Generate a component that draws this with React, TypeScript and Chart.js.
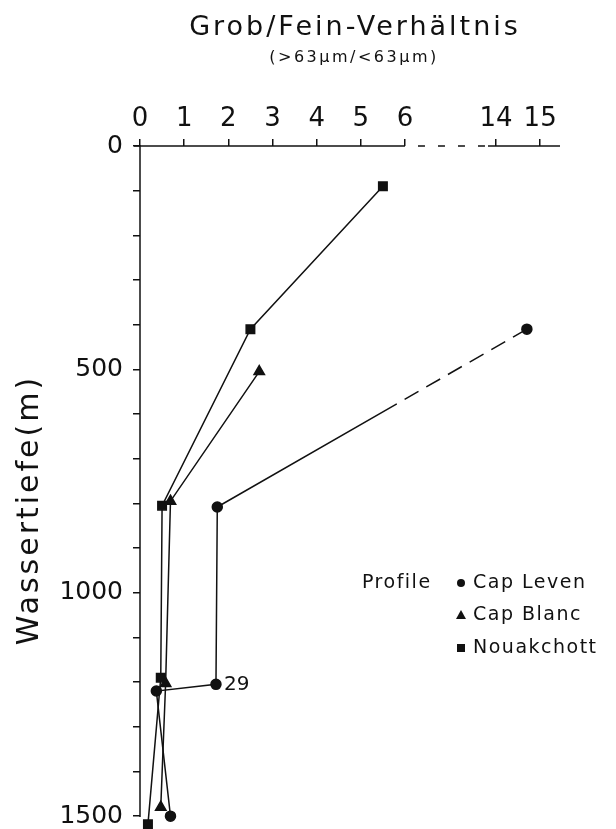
import React, { useEffect, useRef } from 'react';
import { Chart, registerables, LinearScale } from 'chart.js';

Chart.register(...registerables);

// ---------- data ----------
const X_TICKS = [0, 1, 2, 3, 4, 5, 6, 14, 15];
const Y_MAX_TICK = 1500;
const Y_LABEL_STEP = 500;
const Y_TICK_STEP = 100;
const BREAK_FROM = 6;
const BREAK_TO = 14;

const SERIES_NAMES = ['Cap Leven', 'Cap Blanc', 'Nouakchott'];
const capLevenRatio = [14.7, 1.75, 1.72, 0.37, 0.69];
const capLevenDepth = [410, 808, 1205, 1220, 1500];
const capBlancRatio = [2.7, 0.69, 0.58, 0.47];
const capBlancDepth = [505, 795, 1203, 1480];
const nouakchottRatio = [5.5, 2.5, 0.5, 0.47, 0.18];
const nouakchottDepth = [90, 410, 805, 1190, 1518];
const SAMPLE_LABEL = '29';
const SAMPLE_INDEX = 2;

const TITLE = 'Grob/Fein-Verhältnis';
const SUBTITLE = '(>63μm/<63μm)';
const Y_TITLE = 'Wassertiefe(m)';
const LEGEND_TITLE = 'Profile';

// ---------- styling ----------
const INK = '#111';
const FONT = "'DejaVu Sans', sans-serif";
const BREAK_WIDTH = 2.06; // axis units the break occupies
const LEVEN_DASH = [16, 9, 16, 9, 16, 9, 16, 9, 16, 9, 16, 9, 600, 0];

function toAxis(v: number) {
  if (v <= BREAK_FROM) return v;
  if (v >= BREAK_TO) return BREAK_FROM + BREAK_WIDTH + (v - BREAK_TO);
  return BREAK_FROM + ((v - BREAK_FROM) / (BREAK_TO - BREAK_FROM)) * BREAK_WIDTH;
}
function fromAxis(u: number) {
  if (u <= BREAK_FROM) return u;
  if (u >= BREAK_FROM + BREAK_WIDTH) return u - BREAK_FROM - BREAK_WIDTH + BREAK_TO;
  return BREAK_FROM + ((u - BREAK_FROM) / BREAK_WIDTH) * (BREAK_TO - BREAK_FROM);
}

class BrokenLinearScale extends LinearScale {
  static id = 'brokenLinear';
  static defaults = {};
  getPixelForValue(value: any) {
    if (value === null || value === undefined || isNaN(value)) return NaN;
    const a = toAxis(this.min);
    const b = toAxis(this.max);
    return this.getPixelForDecimal((toAxis(value) - a) / (b - a));
  }
  getValueForPixel(pixel: number) {
    const a = toAxis(this.min);
    const b = toAxis(this.max);
    return fromAxis(a + this.getDecimalForPixel(pixel) * (b - a));
  }
}
Chart.register(BrokenLinearScale as any);

const decorPlugin = {
  id: 'decor',
  afterDraw(chart: any) {
    const ctx = chart.ctx as CanvasRenderingContext2D;
    const area = chart.chartArea;
    const xs = chart.scales.x;
    const ys = chart.scales.y;
    ctx.save();
    ctx.strokeStyle = INK;
    ctx.fillStyle = INK;
    ctx.lineWidth = 1.5;

    // y axis line (0 .. 1500)
    ctx.beginPath();
    ctx.moveTo(area.left, ys.getPixelForValue(0) - 1);
    ctx.lineTo(area.left, ys.getPixelForValue(Y_MAX_TICK) + 0.75);
    ctx.stroke();

    // broken x axis line
    const y0 = ys.getPixelForValue(0);
    const p6 = xs.getPixelForValue(BREAK_FROM);
    const p14 = xs.getPixelForValue(BREAK_TO);
    ctx.beginPath();
    ctx.moveTo(area.left - 6, y0);
    ctx.lineTo(p6, y0);
    ctx.stroke();
    ctx.setLineDash([7, 13]);
    ctx.lineDashOffset = 7;
    ctx.beginPath();
    ctx.moveTo(p6, y0);
    ctx.lineTo(p14 - 8, y0);
    ctx.stroke();
    ctx.setLineDash([]);
    ctx.beginPath();
    ctx.moveTo(p14 - 8, y0);
    ctx.lineTo(area.right, y0);
    ctx.stroke();

    // titles
    (ctx as any).letterSpacing = '3px';
    ctx.textAlign = 'center';
    ctx.textBaseline = 'middle';
    ctx.font = `27px ${FONT}`;
    ctx.fillText(TITLE, 355, 28);
    ctx.font = `16px ${FONT}`;
    (ctx as any).letterSpacing = '2.5px';
    ctx.fillText(SUBTITLE, 354, 58);

    // y title
    ctx.save();
    ctx.translate(30, 510);
    ctx.rotate(-Math.PI / 2);
    ctx.font = `30px ${FONT}`;
    (ctx as any).letterSpacing = '3px';
    ctx.fillText(Y_TITLE, 0, 0);
    ctx.restore();

    // sample label
    const pt = chart.getDatasetMeta(0).data[SAMPLE_INDEX];
    ctx.textAlign = 'left';
    ctx.font = `20px ${FONT}`;
    (ctx as any).letterSpacing = '0px';
    ctx.fillText(SAMPLE_LABEL, pt.x + 8, pt.y);

    // legend
    ctx.font = `19px ${FONT}`;
    (ctx as any).letterSpacing = '1.5px';
    const lx = 461;
    const ly = [583, 615, 648];
    ctx.fillText(LEGEND_TITLE, 362, ly[0]);
    SERIES_NAMES.forEach((name, i) => {
      const y = ly[i];
      ctx.beginPath();
      if (i === 0) {
        ctx.arc(lx, y, 4, 0, Math.PI * 2);
      } else if (i === 1) {
        ctx.moveTo(lx, y - 5);
        ctx.lineTo(lx + 5, y + 4);
        ctx.lineTo(lx - 5, y + 4);
        ctx.closePath();
      } else {
        ctx.rect(lx - 4, y - 4, 8, 8);
      }
      ctx.fill();
      ctx.fillText(name, lx + 12, y);
    });
    ctx.restore();
  },
};

function makeData(xs: number[], ys: number[]) {
  return xs.map((x, i) => ({ x, y: ys[i] }));
}

export default function App() {
  const ref = useRef<HTMLCanvasElement>(null);
  useEffect(() => {
    document.body.style.margin = '0';
    const canvas = ref.current!;
    const common = {
      borderColor: INK,
      backgroundColor: INK,
      pointBackgroundColor: INK,
      pointBorderColor: INK,
      borderWidth: 1.5,
      tension: 0,
      clip: false as any,
    };
    const yTicks: number[] = [];
    for (let v = 0; v <= Y_MAX_TICK; v += Y_TICK_STEP) yTicks.push(v);
    const chart = new Chart(canvas, {
      type: 'line',
      data: {
        datasets: [
          {
            ...common,
            label: SERIES_NAMES[0],
            data: makeData(capLevenRatio, capLevenDepth),
            pointStyle: 'circle',
            pointRadius: 5,
            segment: {
              borderDash: (c: any) => (c.p0DataIndex === 0 ? LEVEN_DASH : undefined),
            },
          },
          {
            ...common,
            label: SERIES_NAMES[1],
            data: makeData(capBlancRatio, capBlancDepth),
            pointStyle: 'triangle',
            pointRadius: 6,
          },
          {
            ...common,
            label: SERIES_NAMES[2],
            data: makeData(nouakchottRatio, nouakchottDepth),
            pointStyle: 'rect',
            pointRadius: 6,
          },
        ] as any,
      },
      options: {
        responsive: false,
        animation: false,
        devicePixelRatio: 1,
        events: [],
        layout: { padding: { left: 0, top: 0, right: 56, bottom: 0 } },
        plugins: {
          legend: { display: false },
          tooltip: { enabled: false },
          title: { display: false },
        },
        scales: {
          x: {
            type: 'brokenLinear' as any,
            position: 'top',
            min: 0,
            max: 15.45,
            afterFit: (s: any) => {
              s.height = 146;
              s.paddingLeft = 0;
              s.paddingRight = 0;
              s.paddingTop = 0;
              s.paddingBottom = 0;
            },
            afterBuildTicks: (s: any) => {
              s.ticks = X_TICKS.map((value) => ({ value }));
            },
            grid: {
              drawOnChartArea: false,
              drawTicks: true,
              tickLength: 7,
              color: INK,
              lineWidth: 1.5,
            },
            border: { display: false },
            ticks: {
              font: { family: FONT, size: 26 },
              color: INK,
              padding: 4,
              maxRotation: 0,
              autoSkip: false,
              callback: (v: any) => String(v),
            },
          } as any,
          y: {
            type: 'linear',
            reverse: true,
            min: 0,
            max: 1512,
            afterFit: (s: any) => {
              s.width = 140;
              s.paddingTop = 0;
              s.paddingBottom = 0;
              s.paddingLeft = 0;
              s.paddingRight = 0;
            },
            afterBuildTicks: (s: any) => {
              s.ticks = yTicks.map((value) => ({ value }));
            },
            ticks: {
              autoSkip: false,
              font: { family: FONT, size: 25 },
              color: INK,
              padding: 10,
              callback: (v: any) => (v % Y_LABEL_STEP === 0 ? String(v) : ''),
            },
            grid: {
              drawOnChartArea: false,
              tickLength: 7,
              color: INK,
              lineWidth: 1.5,
            },
            border: { display: false },
          } as any,
        },
      },
      plugins: [decorPlugin],
    });
    return () => chart.destroy();
  }, []);
  return (
    <canvas ref={ref} width={616} height={829} style={{ display: 'block', width: 616, height: 829 }} />
  );
}
